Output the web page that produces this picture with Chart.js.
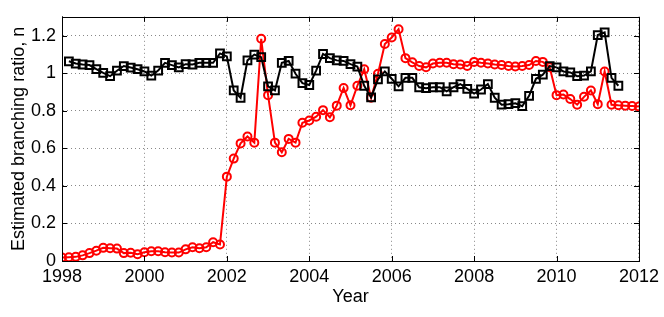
<!DOCTYPE html>
<html>
<head>
<meta charset="utf-8">
<script src="https://cdn.jsdelivr.net/npm/chart.js@4/dist/chart.umd.min.js"></script>
<style>
    html, body { margin: 0; padding: 0; background: #fff; }
    #wrap { width: 664px; height: 317px; }
</style>
</head>
<body>
<div id="wrap"><canvas id="chart"></canvas></div>
<script>
// --- data (one sample every 2 months) ---
const startYear = 1998;
const samplesPerYear = 6;
const xTicks = [1998, 2000, 2002, 2004, 2006, 2008, 2010, 2012];
const yTicks = [0, 0.2, 0.4, 0.6, 0.8, 1, 1.2];

// red circles, first sample at 1998.0
const redValues = [
    0.018, 0.02, 0.022, 0.03, 0.042, 0.055, 0.07, 0.068, 0.066, 0.042, 0.044, 0.036,
    0.047, 0.052, 0.052, 0.047, 0.045, 0.045, 0.062, 0.073, 0.068, 0.073, 0.1, 0.088,
    0.449, 0.545, 0.626, 0.663, 0.63, 1.183, 0.883, 0.63, 0.579, 0.65, 0.63, 0.736,
    0.748, 0.768, 0.803, 0.765, 0.827, 0.921, 0.829, 0.933, 1.021, 0.869, 0.997, 1.155,
    1.19, 1.234, 1.08, 1.058, 1.038, 1.031, 1.051, 1.055, 1.055, 1.048, 1.046, 1.038,
    1.06, 1.055, 1.051, 1.046, 1.043, 1.038, 1.035, 1.038, 1.043, 1.065, 1.06, 1.031,
    0.883, 0.886, 0.862, 0.832, 0.874, 0.908, 0.835, 1.009, 0.832, 0.829, 0.827, 0.825,
    0.822
];

// black squares, first sample one step after 1998.0
const blackOffset = 1;
const blackValues = [
    1.063, 1.051, 1.046, 1.043, 1.021, 1.001, 0.984, 1.013, 1.038, 1.03, 1.021,
    1.009, 0.987, 1.014, 1.055, 1.043, 1.031, 1.048, 1.046, 1.055, 1.055, 1.055, 1.105,
    1.089, 0.908, 0.869, 1.068, 1.099, 1.085, 0.93, 0.908, 1.055, 1.065, 0.997, 0.947,
    0.937, 1.013, 1.102, 1.08, 1.068, 1.065, 1.048, 1.035, 0.933, 0.871, 0.967, 1.009,
    0.97, 0.93, 0.975, 0.975, 0.925, 0.92, 0.925, 0.925, 0.903, 0.925, 0.942, 0.916,
    0.891, 0.913, 0.942, 0.869, 0.832, 0.835, 0.84, 0.824, 0.879, 0.97, 0.992, 1.038,
    1.031, 1.009, 1.004, 0.984, 0.987, 1.009, 1.203, 1.217, 0.975, 0.933
];

function toPoints(values, offset) {
    return values.map((v, i) => ({ x: startYear + (i + offset) / samplesPerYear, y: v }));
}

const FONT = 'Liberation Sans, Arial, Helvetica, sans-serif';

// Matlab-like box with inward tick marks
const boxPlugin = {
    id: 'boxPlugin',
    afterDraw(chart) {
        const { ctx, chartArea: a, scales } = chart;
        ctx.save();
        ctx.strokeStyle = '#000';
        ctx.lineWidth = 1;
        ctx.beginPath();
        scales.x.ticks.forEach(t => {
            const px = Math.round(scales.x.getPixelForValue(t.value)) + 0.5;
            ctx.moveTo(px, a.bottom); ctx.lineTo(px, a.bottom - 5);
            ctx.moveTo(px, a.top); ctx.lineTo(px, a.top + 5);
        });
        scales.y.ticks.forEach(t => {
            const py = Math.round(scales.y.getPixelForValue(t.value)) + 0.5;
            ctx.moveTo(a.left, py); ctx.lineTo(a.left + 5, py);
            ctx.moveTo(a.right, py); ctx.lineTo(a.right - 5, py);
        });
        ctx.stroke();
        ctx.strokeRect(Math.round(a.left) + 0.5, Math.round(a.top) + 0.5,
            Math.round(a.right - a.left), Math.round(a.bottom - a.top));
        ctx.restore();
    }
};

new Chart(document.getElementById('chart'), {
    type: 'line',
    data: {
        datasets: [
            {
                data: toPoints(blackValues, blackOffset),
                borderColor: '#000',
                borderWidth: 2,
                pointStyle: 'rect',
                pointRadius: 5.5,
                pointBorderWidth: 2,
                pointBorderColor: '#000',
                pointBackgroundColor: 'rgba(0,0,0,0)',
                tension: 0
            },
            {
                data: toPoints(redValues, 0),
                borderColor: '#ff0000',
                borderWidth: 2,
                pointStyle: 'circle',
                pointRadius: 4,
                pointBorderWidth: 2,
                pointBorderColor: '#ff0000',
                pointBackgroundColor: 'rgba(0,0,0,0)',
                tension: 0
            }
        ]
    },
    options: {
        responsive: true,
        maintainAspectRatio: false,
        animation: false,
        layout: { padding: { top: 4, right: 25, left: 0, bottom: 0 } },
        plugins: {
            legend: { display: false },
            tooltip: { enabled: false }
        },
        scales: {
            x: {
                type: 'linear',
                min: 1998,
                max: 2012,
                afterBuildTicks: s => { s.ticks = xTicks.map(v => ({ value: v })); },
                afterFit: s => { s.height = 56; },
                ticks: {
                    color: '#000',
                    font: { family: FONT, size: 18 },
                    padding: 5,
                    maxRotation: 0,
                    callback: v => String(v)
                },
                grid: {
                    color: '#888',
                    drawTicks: false
                },
                border: { color: '#555', width: 1, dash: [1, 3] },
                title: {
                    display: true,
                    text: 'Year',
                    color: '#000',
                    font: { family: FONT, size: 18 },
                    padding: { top: 0, bottom: 9 }
                }
            },
            y: {
                type: 'linear',
                min: 0,
                max: 1.3,
                afterBuildTicks: s => { s.ticks = yTicks.map(v => ({ value: v })); },
                afterFit: s => { s.width = 62; },
                ticks: {
                    color: '#000',
                    font: { family: FONT, size: 18 },
                    padding: 6,
                    callback: v => String(Math.round(v * 10) / 10)
                },
                grid: {
                    color: '#888',
                    drawTicks: false
                },
                border: { color: '#555', width: 1, dash: [1, 3] },
                title: {
                    display: true,
                    text: 'Estimated branching ratio, n',
                    color: '#000',
                    font: { family: FONT, size: 18 },
                    padding: { top: 8, bottom: 0 }
                }
            }
        }
    },
    plugins: [boxPlugin]
});
</script>
</body>
</html>
